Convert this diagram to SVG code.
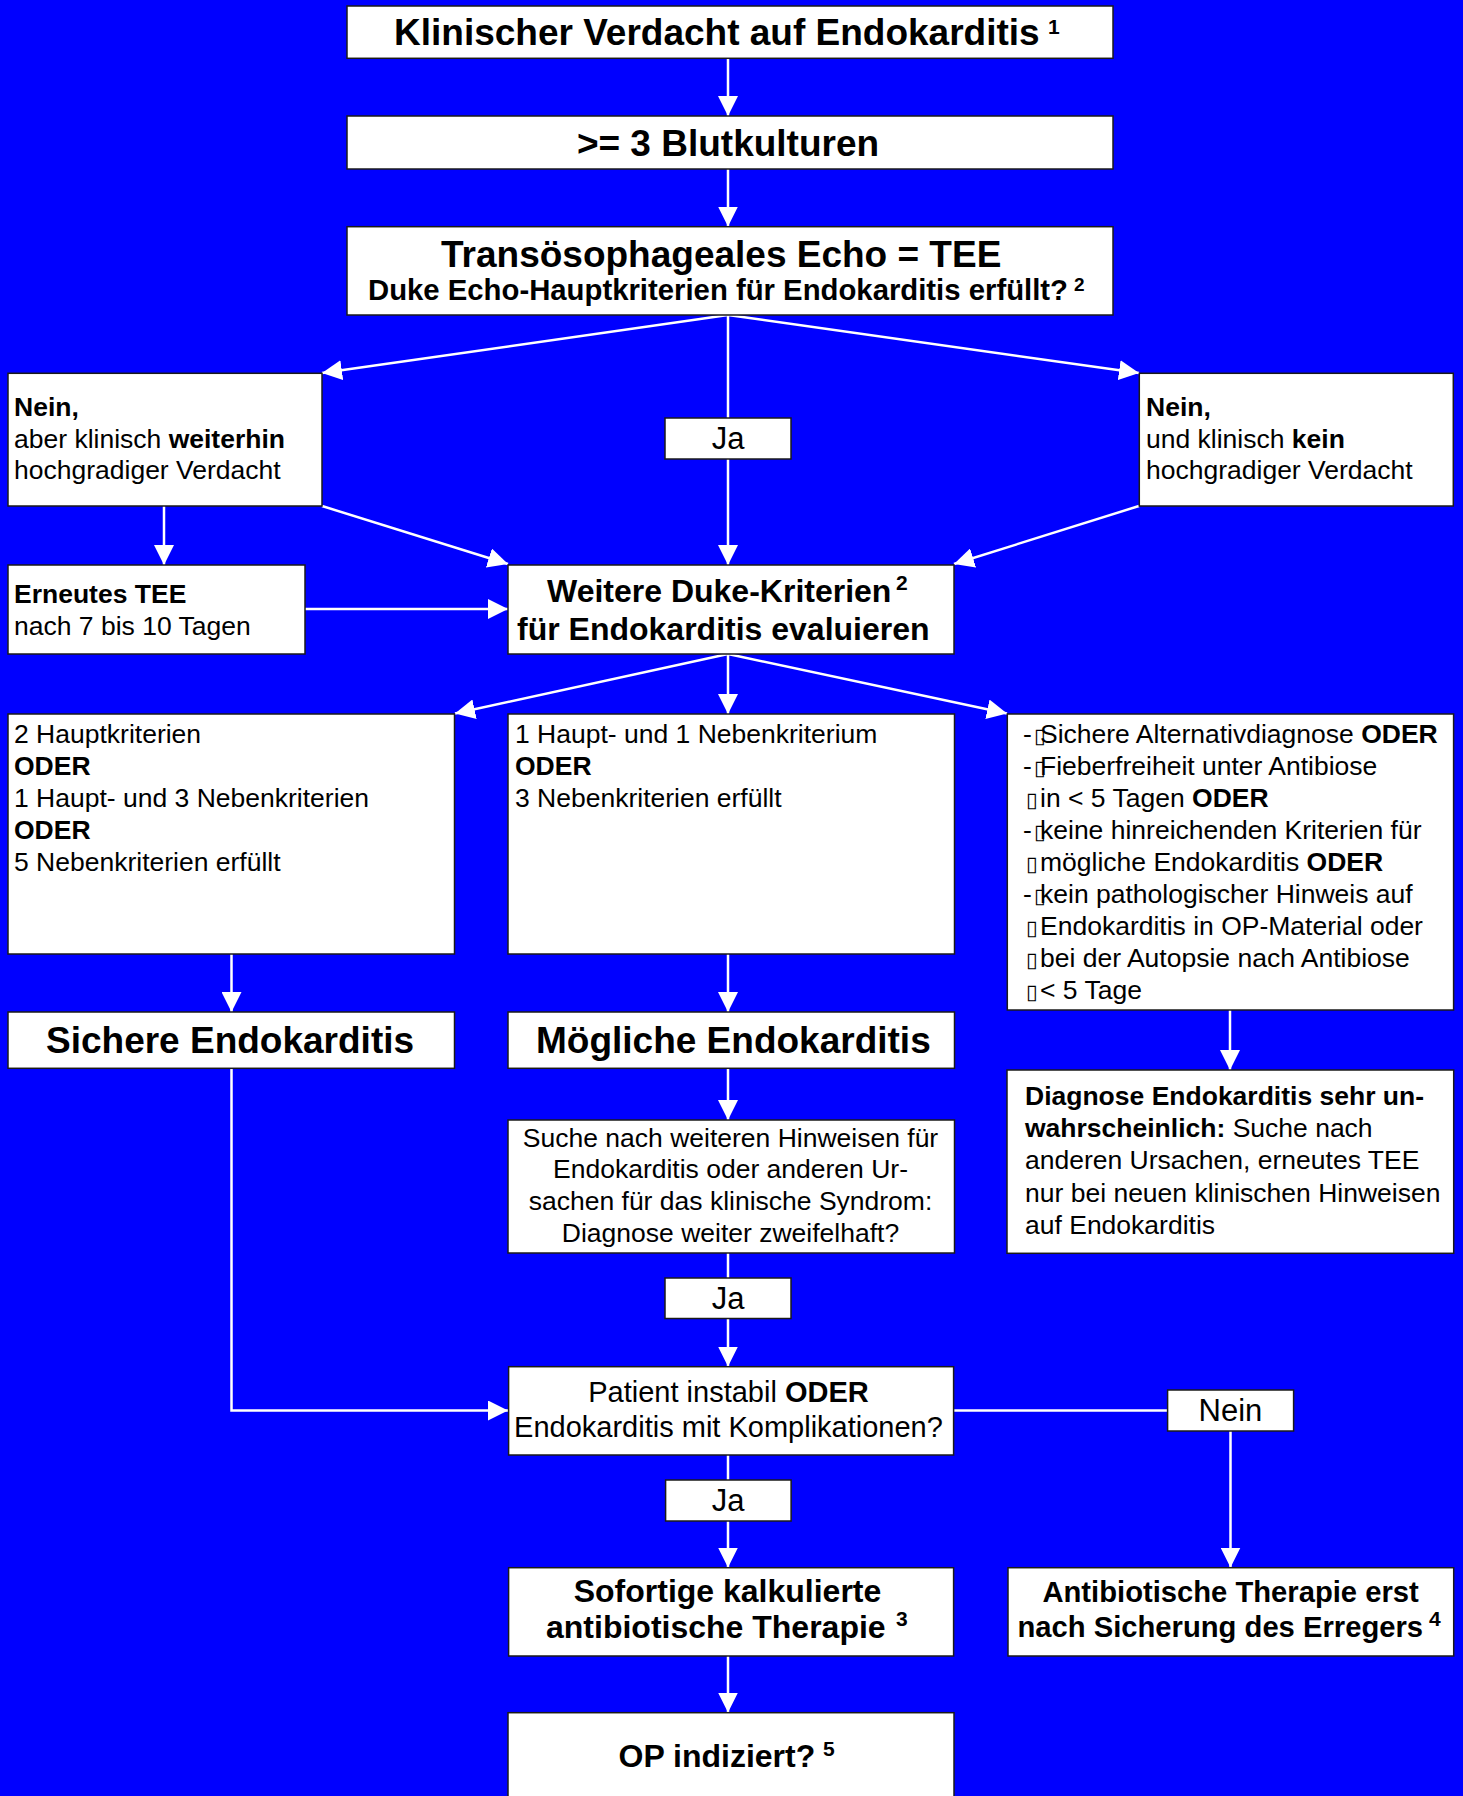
<svg xmlns="http://www.w3.org/2000/svg" width="1463" height="1796" viewBox="0 0 1463 1796">
<style>
.box{fill:#fff;stroke:#1a1a1a;stroke-width:1.5}
.t{font-family:"Liberation Sans",Arial,sans-serif;font-size:26.5px;fill:#000}
.b{font-weight:bold}
.h37{font-size:37px;font-weight:bold}
.h32{font-size:32px;font-weight:bold}
.h29b{font-size:29.2px;font-weight:bold}
.h29{font-size:29px}
.lbl{font-size:31px}
.sup{font-size:21px;font-weight:bold}
.sup2{font-size:19px;font-weight:bold}
.tofu{font-family:"DejaVu Sans",sans-serif;font-size:21px}
.c{stroke:#fff;stroke-width:2.5;fill:none}
.ca{stroke:#fff;stroke-width:2.5;fill:none;marker-end:url(#ah)}
</style>
<defs>
<marker id="ah" markerUnits="userSpaceOnUse" markerWidth="20" markerHeight="20" refX="20" refY="10" orient="auto" viewBox="0 0 20 20">
<path d="M0,0 L20,10 L0,20 z" fill="#fff"/>
</marker>
</defs>
<rect x="0" y="0" width="1463" height="1796" fill="#0000ff"/>

<g id="connectors">
<line class="ca" x1="728" y1="58" x2="728" y2="116"/>
<line class="ca" x1="728" y1="169" x2="728" y2="226.5"/>
<line class="ca" x1="728" y1="315" x2="322" y2="373"/>
<line class="c" x1="728" y1="315" x2="728" y2="418"/>
<line class="ca" x1="728" y1="459" x2="728" y2="565"/>
<line class="ca" x1="728" y1="315" x2="1139" y2="373"/>
<line class="ca" x1="164" y1="506" x2="164" y2="565"/>
<line class="ca" x1="322" y1="506" x2="508" y2="564"/>
<line class="ca" x1="1139" y1="506" x2="954" y2="564"/>
<line class="ca" x1="305" y1="609" x2="508" y2="609"/>
<line class="ca" x1="728" y1="654" x2="455" y2="713.5"/>
<line class="ca" x1="728" y1="654" x2="728" y2="714"/>
<line class="ca" x1="728" y1="654" x2="1007" y2="713.5"/>
<line class="ca" x1="231.5" y1="954" x2="231.5" y2="1012"/>
<line class="ca" x1="728" y1="954" x2="728" y2="1012"/>
<line class="ca" x1="1230" y1="1010" x2="1230" y2="1070"/>
<line class="ca" x1="728" y1="1068" x2="728" y2="1120"/>
<line class="c" x1="728" y1="1253" x2="728" y2="1278"/>
<line class="ca" x1="728" y1="1318.5" x2="728" y2="1366.5"/>
<polyline class="ca" points="231.5,1068 231.5,1410.5 508,1410.5"/>
<line class="c" x1="953.5" y1="1410.5" x2="1167.5" y2="1410.5"/>
<line class="ca" x1="1230.5" y1="1431" x2="1230.5" y2="1567.5"/>
<line class="c" x1="728" y1="1455" x2="728" y2="1480"/>
<line class="ca" x1="728" y1="1521" x2="728" y2="1567.5"/>
<line class="ca" x1="728" y1="1656" x2="728" y2="1712.5"/>
</g>

<g id="n-verdacht">
<rect class="box" x="347" y="6" width="766" height="52.3"/>
<text class="t h37" x="394" y="45">Klinischer Verdacht auf Endokarditis</text>
<text class="t sup" x="1048" y="34">1</text>
</g>
<g id="n-blutkulturen">
<rect class="box" x="347" y="116" width="766" height="53"/>
<text class="t h37" x="728" y="156" text-anchor="middle">&gt;= 3 Blutkulturen</text>
</g>
<g id="n-tee">
<rect class="box" x="347" y="226.7" width="766" height="88.3"/>
<text class="t h37" x="441" y="266.5">Transösophageales Echo = TEE</text>
<text class="t b" style="font-size:29.3px" x="368" y="300">Duke Echo-Hauptkriterien für Endokarditis erfüllt?</text>
<text class="t sup2" x="1074" y="291">2</text>
</g>
<g id="n-nein-links">
<rect class="box" x="8" y="373.3" width="314" height="132.7"/>
<text class="t" x="14" y="416"><tspan class="b">Nein,</tspan></text>
<text class="t" x="14" y="447.5">aber klinisch <tspan class="b">weiterhin</tspan></text>
<text class="t" x="14" y="479">hochgradiger Verdacht</text>
</g>
<g id="n-ja1">
<rect class="box" x="665" y="418" width="126" height="41"/>
<text class="t lbl" x="728" y="449" text-anchor="middle">Ja</text>
</g>
<g id="n-nein-rechts">
<rect class="box" x="1139.3" y="373.3" width="314" height="132.7"/>
<text class="t" x="1146" y="416"><tspan class="b">Nein,</tspan></text>
<text class="t" x="1146" y="447.5">und klinisch <tspan class="b">kein</tspan></text>
<text class="t" x="1146" y="479">hochgradiger Verdacht</text>
</g>
<g id="n-erneutes-tee">
<rect class="box" x="8" y="565" width="297" height="89"/>
<text class="t b" x="14" y="603">Erneutes TEE</text>
<text class="t" x="14" y="635">nach 7 bis 10 Tagen</text>
</g>
<g id="n-weitere">
<rect class="box" x="508" y="565" width="446" height="89"/>
<text class="t h32" x="547" y="601.5">Weitere Duke-Kriterien</text>
<text class="t sup" x="896" y="590">2</text>
<text class="t h32" x="517" y="640">für Endokarditis evaluieren</text>
</g>
<g id="n-krit-sicher">
<rect class="box" x="8" y="714" width="446.5" height="240"/>
<text class="t" x="14" y="743">2 Hauptkriterien</text>
<text class="t b" x="14" y="775">ODER</text>
<text class="t" x="14" y="807">1 Haupt- und 3 Nebenkriterien</text>
<text class="t b" x="14" y="839">ODER</text>
<text class="t" x="14" y="871">5 Nebenkriterien erfüllt</text>
</g>
<g id="n-krit-moeglich">
<rect class="box" x="508" y="714" width="446.5" height="240"/>
<text class="t" x="515" y="743">1 Haupt- und 1 Nebenkriterium</text>
<text class="t b" x="515" y="775">ODER</text>
<text class="t" x="515" y="807">3 Nebenkriterien erfüllt</text>
</g>
<g id="n-krit-unwahrscheinlich">
<rect class="box" x="1007.3" y="714" width="446.3" height="296"/>
<text class="t" y="743"><tspan x="1023">-</tspan><tspan class="tofu" x="1034">▯</tspan><tspan x="1040">Sichere Alternativdiagnose </tspan><tspan class="b">ODER</tspan></text>
<text class="t" y="775"><tspan x="1023">-</tspan><tspan class="tofu" x="1034">▯</tspan><tspan x="1040">Fieberfreiheit unter Antibiose</tspan></text>
<text class="t" y="807"><tspan class="tofu" x="1026">▯</tspan><tspan x="1040">in &lt; 5 Tagen </tspan><tspan class="b">ODER</tspan></text>
<text class="t" y="839"><tspan x="1023">-</tspan><tspan class="tofu" x="1034">▯</tspan><tspan x="1040">keine hinreichenden Kriterien für</tspan></text>
<text class="t" y="871"><tspan class="tofu" x="1026">▯</tspan><tspan x="1040">mögliche Endokarditis </tspan><tspan class="b">ODER</tspan></text>
<text class="t" y="903"><tspan x="1023">-</tspan><tspan class="tofu" x="1034">▯</tspan><tspan x="1040">kein pathologischer Hinweis auf</tspan></text>
<text class="t" y="935"><tspan class="tofu" x="1026">▯</tspan><tspan x="1040">Endokarditis in OP-Material oder</tspan></text>
<text class="t" y="967"><tspan class="tofu" x="1026">▯</tspan><tspan x="1040">bei der Autopsie nach Antibiose</tspan></text>
<text class="t" y="998.5"><tspan class="tofu" x="1026">▯</tspan><tspan x="1040">&lt; 5 Tage</tspan></text>
</g>
<g id="n-sichere">
<rect class="box" x="8" y="1012" width="446.5" height="56.3"/>
<text class="t h37" x="46" y="1053">Sichere Endokarditis</text>
</g>
<g id="n-moegliche">
<rect class="box" x="508" y="1012" width="446.5" height="56.3"/>
<text class="t h37" x="536" y="1053">Mögliche Endokarditis</text>
</g>
<g id="n-diagnose">
<rect class="box" x="1007" y="1070" width="446.7" height="183.3"/>
<text class="t b" x="1025" y="1105">Diagnose Endokarditis sehr un-</text>
<text class="t" x="1025" y="1137"><tspan class="b">wahrscheinlich:</tspan> Suche nach</text>
<text class="t" x="1025" y="1169">anderen Ursachen, erneutes TEE</text>
<text class="t" x="1025" y="1201.5">nur bei neuen klinischen Hinweisen</text>
<text class="t" x="1025" y="1233.5">auf Endokarditis</text>
</g>
<g id="n-suche">
<rect class="box" x="508" y="1120" width="446.5" height="133"/>
<text class="t" x="730.5" y="1146.5" text-anchor="middle">Suche nach weiteren Hinweisen für</text>
<text class="t" x="730.5" y="1178.3" text-anchor="middle">Endokarditis oder anderen Ur-</text>
<text class="t" x="730.5" y="1210" text-anchor="middle">sachen für das klinische Syndrom:</text>
<text class="t" x="730.5" y="1241.7" text-anchor="middle">Diagnose weiter zweifelhaft?</text>
</g>
<g id="n-ja2">
<rect class="box" x="665" y="1278" width="126" height="40.5"/>
<text class="t lbl" x="728" y="1308.5" text-anchor="middle">Ja</text>
</g>
<g id="n-patient">
<rect class="box" x="508.6" y="1366.7" width="445" height="88.3"/>
<text class="t h29" x="728.5" y="1401.7" text-anchor="middle">Patient instabil <tspan class="b">ODER</tspan></text>
<text class="t h29" x="728.5" y="1436.7" text-anchor="middle">Endokarditis mit Komplikationen?</text>
</g>
<g id="n-nein2">
<rect class="box" x="1167.6" y="1390" width="126" height="41"/>
<text class="t lbl" x="1230.5" y="1420.5" text-anchor="middle">Nein</text>
</g>
<g id="n-ja3">
<rect class="box" x="665.6" y="1480" width="125.5" height="41"/>
<text class="t lbl" x="728" y="1510.5" text-anchor="middle">Ja</text>
</g>
<g id="n-sofortige">
<rect class="box" x="508.6" y="1567.7" width="445" height="88.3"/>
<text class="t h32" x="727.5" y="1601.7" text-anchor="middle">Sofortige kalkulierte</text>
<text class="t h32" x="546" y="1637.5">antibiotische Therapie</text>
<text class="t sup" x="896" y="1626">3</text>
</g>
<g id="n-antibiotische">
<rect class="box" x="1008" y="1567.7" width="445.7" height="88.3"/>
<text class="t h29b" x="1230.6" y="1601.7" text-anchor="middle">Antibiotische Therapie erst</text>
<text class="t h29b" x="1017.5" y="1637">nach Sicherung des Erregers</text>
<text class="t sup" x="1429" y="1626">4</text>
</g>
<g id="n-op">
<rect class="box" x="508" y="1712.7" width="446" height="100"/>
<text class="t h32" x="618.5" y="1766.7">OP indiziert?</text>
<text class="t sup" x="823" y="1756">5</text>
</g>
</svg>
